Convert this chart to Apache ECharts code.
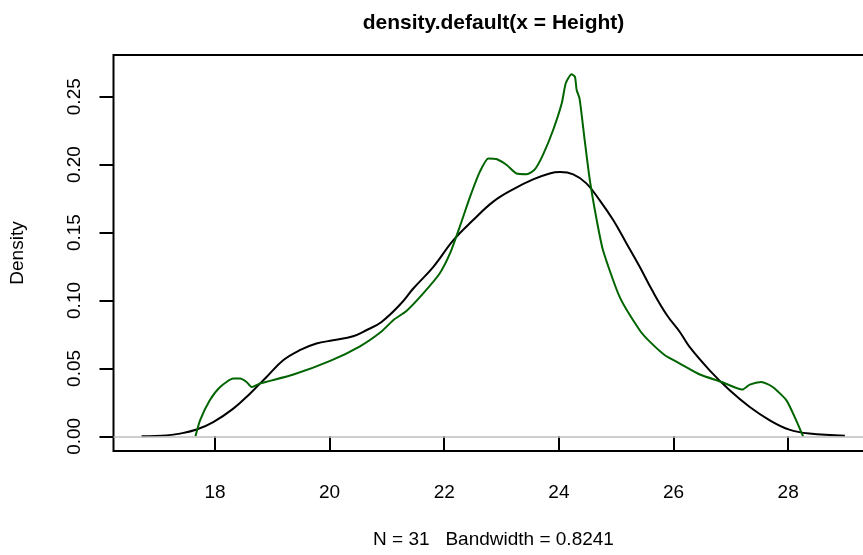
<!DOCTYPE html>
<html>
<head>
<meta charset="utf-8">
<script src="https://cdn.jsdelivr.net/npm/echarts@6/dist/echarts.min.js"></script>
<style>
  html, body { margin: 0; padding: 0; background: #fff; }
  #chart { width: 863px; height: 555px; }
</style>
</head>
<body>
<div id="chart"></div>
<script>
// Kernel density estimate of tree heights (bw = 0.8241), in black
const blackX = [16.72, 17.16, 17.39, 17.68, 17.97, 18.32, 18.61, 18.90, 19.19, 19.48, 19.77, 20.06,
  20.41, 20.64, 20.90, 21.23, 21.46, 21.81, 22.16, 22.50, 22.85, 23.20, 23.55, 23.84, 24.02, 24.25,
  24.48, 24.71, 24.95, 25.18, 25.41, 25.62, 25.88, 26.11, 26.28, 26.63, 26.98, 27.33, 27.68, 28.02,
  28.37, 28.99];
const blackY = [0.0000, 0.0007, 0.0020, 0.0050, 0.0105, 0.0204, 0.0314, 0.0437, 0.0560, 0.0634, 0.0683, 0.0707,
  0.0737, 0.0781, 0.0840, 0.0970, 0.1088, 0.1248, 0.1444, 0.1590, 0.1726, 0.1818, 0.1891, 0.1935, 0.1945, 0.1928,
  0.1862, 0.1739, 0.1590, 0.1420, 0.1248, 0.1080, 0.0895, 0.0768, 0.0658, 0.0486, 0.0339, 0.0216, 0.0118, 0.0049,
  0.0020, 0.0004];

// Narrower estimate, drawn in dark green
const greenX = [17.66, 17.74, 17.91, 18.09, 18.32, 18.44, 18.55, 18.64, 18.78, 19.37, 20.01, 20.53,
  20.90, 21.11, 21.34, 21.63, 21.92, 22.10, 22.27, 22.45, 22.62, 22.77, 22.91, 23.09, 23.26, 23.44,
  23.58, 23.72, 23.90, 24.05, 24.12, 24.22, 24.28, 24.31, 24.36, 24.45, 24.54, 24.66, 24.77, 25.06,
  25.41, 25.59, 25.85, 26.11, 26.46, 26.84, 27.20, 27.33, 27.53, 27.73, 27.97, 28.14, 28.26];
const greenY = [0.0000, 0.0118, 0.0265, 0.0363, 0.0425, 0.0425, 0.0400, 0.0363, 0.0388, 0.0455, 0.0555, 0.0663,
  0.0770, 0.0855, 0.0923, 0.1051, 0.1199, 0.1346, 0.1542, 0.1763, 0.1947, 0.2046, 0.2041, 0.1997, 0.1935, 0.1930,
  0.1965, 0.2070, 0.2255, 0.2451, 0.2599, 0.2665, 0.2647, 0.2549, 0.2488, 0.2181, 0.1886, 0.1592, 0.1370, 0.1026,
  0.0781, 0.0695, 0.0597, 0.0536, 0.0455, 0.0400, 0.0344, 0.0381, 0.0400, 0.0363, 0.0265, 0.0118, 0.0000];

const xTicks = [18, 20, 22, 24, 26, 28];
const yTicks = [0, 0.05, 0.10, 0.15, 0.20, 0.25];

const mainTitle = 'density.default(x = Height)';
const subTitle = 'N = 31   Bandwidth = 0.8241';
const yTitle = 'Density';

const pairs = (xs, ys) => xs.map((x, i) => [x, ys[i]]);

const FONT = '"Liberation Sans", Arial, Helvetica, sans-serif';
const chart = echarts.init(document.getElementById('chart'), null, { renderer: 'canvas' });

chart.setOption({
  animation: false,
  backgroundColor: '#ffffff',
  textStyle: { fontFamily: FONT },
  // plot region runs a little past the right edge of the canvas
  grid: {
    left: 113.5, top: 55, width: 759.5, height: 396,
    outerBoundsMode: 'none', containLabel: false,
    show: true, borderColor: '#000', borderWidth: 2, backgroundColor: 'transparent'
  },
  xAxis: {
    type: 'value', min: 16.23, max: 29.48,
    axisLine: { show: false },
    splitLine: { show: false },
    axisTick: { show: true, customValues: xTicks, length: 14, inside: false,
      lineStyle: { color: '#000', width: 2 } },
    axisLabel: { customValues: xTicks, color: '#000', fontSize: 19, fontFamily: FONT, margin: 32,
      formatter: v => String(v) }
  },
  yAxis: {
    type: 'value', min: -0.0108, max: 0.2807,
    axisLine: { show: false },
    splitLine: { show: false },
    axisTick: { show: true, customValues: yTicks, length: 14, inside: false,
      lineStyle: { color: '#000', width: 2 } },
    axisLabel: { customValues: yTicks, color: '#000', fontSize: 19, fontFamily: FONT, margin: 29,
      rotate: 90, formatter: v => v.toFixed(2) }
  },
  graphic: [
    { type: 'text', x: 493.5, y: 23, style: { text: mainTitle, fill: '#000',
      font: 'bold 21px ' + FONT, textAlign: 'center', textVerticalAlign: 'middle' } },
    { type: 'text', x: 493.5, y: 540, style: { text: subTitle, fill: '#000',
      font: '19px ' + FONT, textAlign: 'center', textVerticalAlign: 'middle' } },
    { type: 'text', x: 18, y: 253, rotation: Math.PI / 2, style: { text: yTitle, fill: '#000',
      font: '19px ' + FONT, textAlign: 'center', textVerticalAlign: 'middle' } }
  ],
  series: [
    {
      type: 'line', data: pairs(blackX, blackY), showSymbol: false, smooth: 0.4,
      lineStyle: { color: '#000000', width: 2 }, z: 3,
      markLine: {
        silent: true, symbol: 'none', label: { show: false },
        lineStyle: { color: '#bebebe', width: 1.5, type: 'solid' },
        data: [{ yAxis: 0 }]
      }
    },
    {
      type: 'line', data: pairs(greenX, greenY), showSymbol: false, smooth: 0.2,
      lineStyle: { color: '#006400', width: 2 }, z: 4
    }
  ]
});
</script>
</body>
</html>
